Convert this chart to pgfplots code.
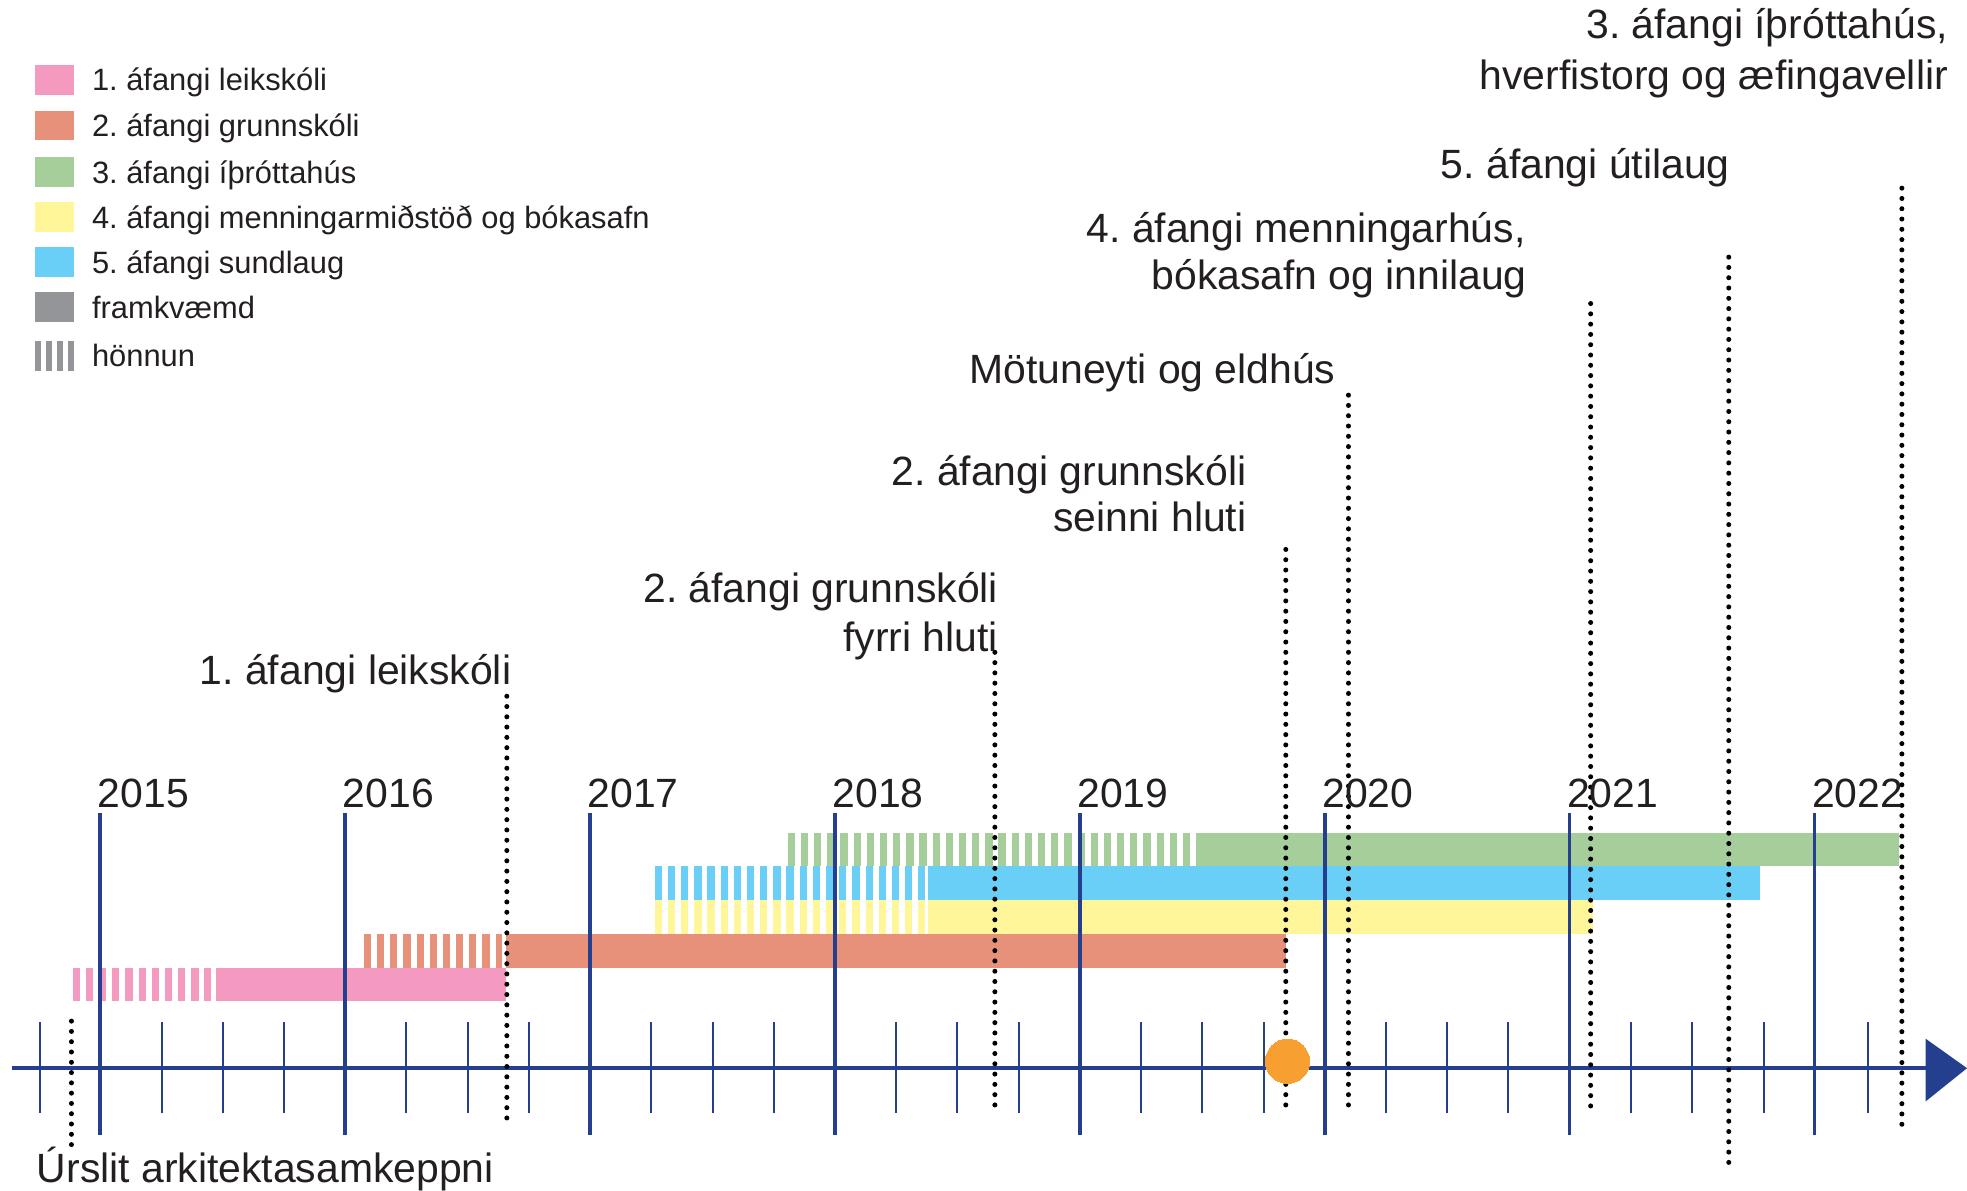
\documentclass[border=0pt]{standalone}
\usepackage{fontspec}
\setmainfont{Liberation Sans}
\usepackage{pgfplots}
\pgfplotsset{compat=1.18}
\frenchspacing
\definecolor{lpink}{RGB}{244,154,193}
\definecolor{lorange}{RGB}{231,145,122}
\definecolor{lgreen}{RGB}{165,206,154}
\definecolor{lyellow}{RGB}{255,245,153}
\definecolor{lblue}{RGB}{106,207,246}
\definecolor{lgray}{RGB}{147,149,152}
\definecolor{axblue}{RGB}{36,63,142}
\definecolor{dotorange}{RGB}{247,160,49}
\definecolor{txt}{RGB}{35,31,32}
\tikzset{
  hatch/.style={line width=13.3pt, dash pattern=on 2.9pt off 2.35pt},
  solid bar/.style={line width=13.3pt},
  dotline/.style={draw=black, line width=2.0pt, line cap=round, dash pattern=on 0pt off 4.1pt},
  ms/.style={font=\fontsize{16.3}{19.5}\selectfont, text=txt, inner sep=0pt, anchor=base east},
  lg/.style={font=\fontsize{12.3}{14.5}\selectfont, text=txt, inner sep=0pt, anchor=base west},
}
\begin{document}
\begin{tikzpicture}
\begin{axis}[
  scale only axis, width=784pt, height=474.5pt,
  xmin=2014.5902, xmax=2022.6230, ymin=0, ymax=949,
  hide axis, clip=false,
  every axis plot/.append style={forget plot},
]
% ---- bars: hatched = design (honnun), solid = construction (framkvaemd)
\addplot[lpink, hatch] coordinates {(2014.887,164) (2015.451,164)};
\addplot[lpink, solid bar] coordinates {(2015.471,164) (2016.655,164)};
\addplot[lorange, hatch] coordinates {(2016.076,191) (2016.639,191)};
\addplot[lorange, solid bar] coordinates {(2016.655,191) (2019.841,191)};
\addplot[lyellow, hatch] coordinates {(2017.264,218) (2018.381,218)};
\addplot[lyellow, solid bar] coordinates {(2018.381,218) (2021.096,218)};
\addplot[lblue, hatch] coordinates {(2017.264,245) (2018.381,245)};
\addplot[lblue, solid bar] coordinates {(2018.381,245) (2021.778,245)};
\addplot[lgreen, hatch] coordinates {(2017.807,272) (2019.498,272)};
\addplot[lgreen, solid bar] coordinates {(2019.498,272) (2022.346,272)};
% ---- time axis
\addplot[draw=axblue, line width=1.35pt] coordinates {(2014.641,97.5) (2022.47,97.5)};
\addplot[fill=axblue, draw=none] coordinates {(2022.454,121) (2022.623,97.5) (2022.454,71)} -- cycle;
\pgfplotsinvokeforeach{2015,2016,2017,2018,2019,2020,2021,2022}{
  \addplot[draw=axblue, line width=1.5pt] coordinates {(#1,44) (#1,301)};
}
\pgfplotsinvokeforeach{2014.754,2015.25,2015.5,2015.75,2016.25,2016.5,2016.75,2017.25,2017.5,2017.75,2018.25,2018.5,2018.75,2019.25,2019.5,2019.75,2020.25,2020.5,2020.75,2021.25,2021.5,2021.793,2022.218}{
  \addplot[draw=axblue, line width=0.8pt] coordinates {(#1,62) (#1,134)};
}
% ---- milestones (dotted)
\addplot[dotline] coordinates {(2014.882,135) (2014.882,35)};
\addplot[dotline] coordinates {(2016.660,394) (2016.660,54)};
\addplot[dotline] coordinates {(2018.653,429) (2018.653,61)};
\addplot[dotline] coordinates {(2019.841,511) (2019.841,61)};
\addplot[dotline] coordinates {(2020.097,634) (2020.097,61)};
\addplot[dotline] coordinates {(2021.086,707) (2021.086,61)};
\addplot[dotline] coordinates {(2021.650,744) (2021.650,19)};
\addplot[dotline] coordinates {(2022.357,799) (2022.357,49)};
% ---- today marker
\addplot[dotorange, only marks, mark=*, mark size=8.8pt, mark options={fill=dotorange, draw=dotorange, line width=0pt}] coordinates {(2019.848,103)};
% ---- year labels
\pgfplotsinvokeforeach{2015,2016,2017,2018,2019,2020,2021,2022}{
  \node[font=\fontsize{16.3}{19.5}\selectfont, text=txt, inner sep=0pt, anchor=base west] at (axis cs:#1-0.012,305) {#1};
}
% ---- milestone labels
\node[ms] at (axis cs:2016.680,403) {1. áfangi leikskóli};
\node[ms] at (axis cs:2018.668,469) {2. áfangi grunnskóli};
\node[ms] at (axis cs:2018.668,430) {fyrri hluti};
\node[ms] at (axis cs:2019.682,562) {2. áfangi grunnskóli};
\node[ms] at (axis cs:2019.682,525) {seinni hluti};
\node[ms] at (axis cs:2020.046,643) {Mötuneyti og eldhús};
\node[ms] at (axis cs:2020.822,756) {4. áfangi menningarhús,};
\node[ms] at (axis cs:2020.827,718) {bókasafn og innilaug};
\node[ms] at (axis cs:2021.656,807) {5. áfangi útilaug};
\node[ms] at (axis cs:2022.547,918) {3. áfangi íþróttahús,};
\node[ms] at (axis cs:2022.547,878) {hverfistorg og æfingavellir};
\node[ms, anchor=base west] at (axis cs:2014.7387,6) {Úrslit arkitektasamkeppni};
% ---- legend
\addplot[lpink, line width=11.9pt] coordinates {(2014.7336,885.5) (2014.8924,885.5)};
\addplot[lorange, line width=11.9pt] coordinates {(2014.7336,849) (2014.8924,849)};
\addplot[lgreen, line width=11.9pt] coordinates {(2014.7336,812) (2014.8924,812)};
\addplot[lyellow, line width=11.9pt] coordinates {(2014.7336,776) (2014.8924,776)};
\addplot[lblue, line width=11.9pt] coordinates {(2014.7336,740) (2014.8924,740)};
\addplot[lgray, line width=11.9pt] coordinates {(2014.7336,704) (2014.8924,704)};
\addplot[lgray, line width=11.9pt, dash pattern=on 2.5pt off 1.9pt] coordinates {(2014.7336,665) (2014.8924,665)};
\node[lg] at (axis cs:2014.964,876.5) {1. áfangi leikskóli};
\node[lg] at (axis cs:2014.964,840) {2. áfangi grunnskóli};
\node[lg] at (axis cs:2014.964,803) {3. áfangi íþróttahús};
\node[lg] at (axis cs:2014.964,767) {4. áfangi menningarmiðstöð og bókasafn};
\node[lg] at (axis cs:2014.964,731) {5. áfangi sundlaug};
\node[lg] at (axis cs:2014.964,695) {framkvæmd};
\node[lg] at (axis cs:2014.964,657) {hönnun};
\end{axis}
\pgfresetboundingbox
\path (0,0) rectangle (784pt,474.5pt);
\end{tikzpicture}
\end{document}
